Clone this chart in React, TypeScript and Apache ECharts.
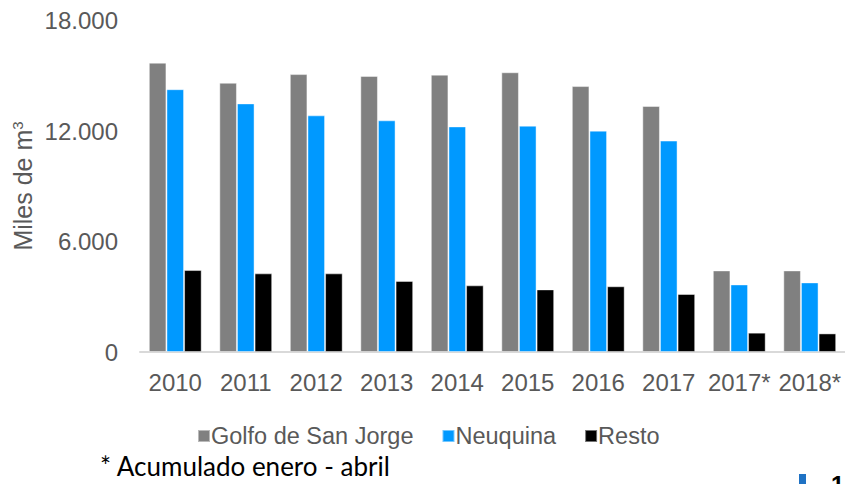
import React, { useEffect, useRef } from "react";
import * as echarts from "echarts";

const categories = ["2010", "2011", "2012", "2013", "2014", "2015", "2016", "2017", "2017*", "2018*"];
const golfoSanJorge = [15710, 14620, 15090, 14990, 15060, 15190, 14440, 13360, 4430, 4430];
const neuquina = [14270, 13500, 12850, 12580, 12250, 12290, 12020, 11480, 3670, 3780];
const resto = [4450, 4270, 4270, 3860, 3620, 3400, 3570, 3150, 1050, 1010];
const seriesNames = ["Golfo de San Jorge", "Neuquina", "Resto"];
const yTicks = [0, 6000, 12000, 18000];

const fmt = (v: number) => String(v).replace(/\B(?=(\d{3})+(?!\d))/g, ".");

export default function App() {
  const ref = useRef<HTMLDivElement>(null);
  useEffect(() => {
    if (!ref.current) return;
    const chart = echarts.init(ref.current, null, { renderer: "svg" });
    const font = "Arial";
    const mk = (name: string, data: number[], color: string) => ({
      name,
      type: "bar",
      data,
      barGap: "0%",
      barCategoryGap: "25%",
      itemStyle: { color, borderColor: "rgba(255,255,255,0.45)", borderWidth: 1 },
    });
    chart.setOption({
      animation: false,
      backgroundColor: "#ffffff",
      grid: { left: 140, right: -3, top: 20.5, bottom: 132, containLabel: false },
      xAxis: {
        type: "category",
        data: categories,
        axisLine: { lineStyle: { color: "#d9d9d9", width: 2 } },
        axisTick: { show: false },
        axisLabel: { color: "#595959", fontSize: 24, fontFamily: font, margin: 18, interval: 0 },
      },
      yAxis: {
        type: "value",
        min: yTicks[0],
        max: yTicks[yTicks.length - 1],
        interval: yTicks[1] - yTicks[0],
        axisLine: { show: false },
        axisTick: { show: false },
        splitLine: { show: false },
        axisLabel: { color: "#595959", fontSize: 24, fontFamily: font, margin: 22, formatter: (v: number) => fmt(v) },
      },
      legend: {
        data: seriesNames,
        left: 192,
        top: 419,
        icon: "rect",
        itemWidth: 12,
        itemHeight: 12,
        itemGap: 28,
        textStyle: { color: "#595959", fontSize: 23.5, fontFamily: font, padding: [0, 0, 0, -4] },
      },
      graphic: [
        {
          type: "text",
          x: 23,
          y: 186,
          rotation: Math.PI / 2,
          style: {
            text: "{a|Miles de m}{b|3}",
            align: "center",
            verticalAlign: "middle",
            rich: {
              a: { fontSize: 25, fontFamily: font, fill: "#595959" },
              b: { fontSize: 15, fontFamily: font, fill: "#595959", verticalAlign: "top", padding: [0, 0, 12, 0] },
            },
          },
        },
        {
          type: "text",
          x: 100,
          y: 466,
          style: {
            text: "* Acumulado enero - abril",
            fontSize: 26,
            fontFamily: "Lato",
            fill: "#000000",
            verticalAlign: "middle",
          },
        },
        { type: "rect", shape: { x: 799, y: 474, width: 7, height: 12 }, style: { fill: "#1F72C4" } },
        {
          type: "text",
          x: 831,
          y: 472,
          style: { text: "1", fontSize: 24, fontWeight: "bold", fontFamily: font, fill: "#000000" },
        },
      ],
      series: [
        mk(seriesNames[0], golfoSanJorge, "#808080"),
        mk(seriesNames[1], neuquina, "#0099FF"),
        mk(seriesNames[2], resto, "#000000"),
      ],
    });
    return () => chart.dispose();
  }, []);
  return <div ref={ref} style={{ width: 845, height: 484, position: "absolute", left: 0, top: 0 }} />;
}
